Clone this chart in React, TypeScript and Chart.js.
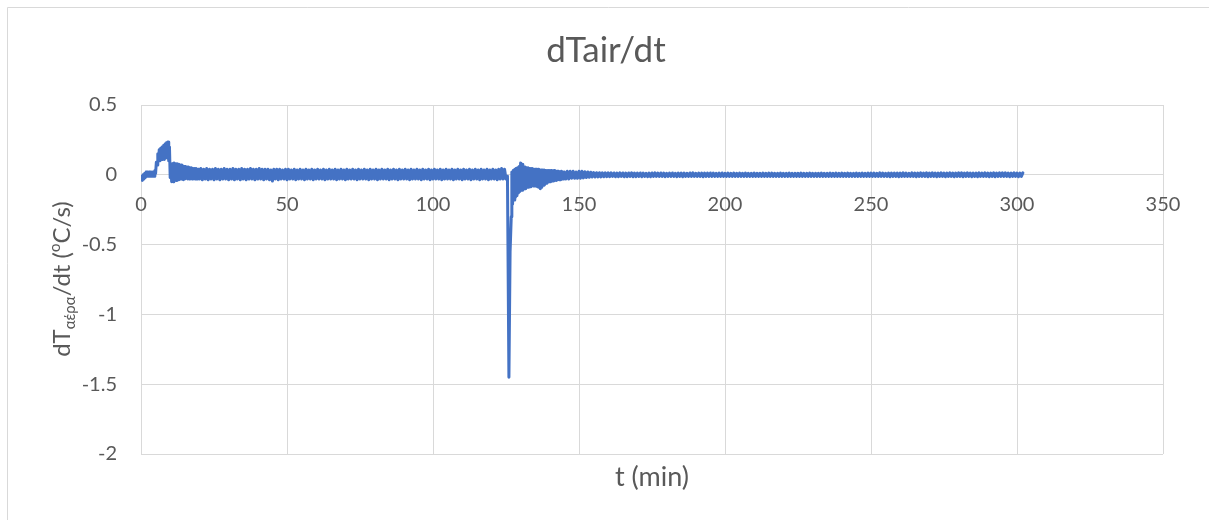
import React, { useEffect, useRef } from "react";
import { Chart, registerables } from "chart.js";

Chart.register(...registerables);

const chartTitle = "dTair/dt";
const xAxisTitle = "t (min)";
const xMin = 0;
const xMax = 350;
const xStep = 50;
const yMin = -2;
const yMax = 0.5;
const yStep = 0.5;

const timeMin: number[] = [
  0, 0.25, 0.5, 0.75, 1, 1.25, 1.5, 1.75,
  2, 2.25, 2.5, 2.75, 3, 3.25, 3.5, 3.75,
  4, 4.25, 4.5, 4.75, 5, 5.25, 5.5, 5.75,
  6, 6.25, 6.5, 6.75, 7, 7.25, 7.5, 7.75,
  8, 8.25, 8.5, 8.75, 9, 9.25, 9.5, 9.75,
  10, 10.25, 10.5, 10.75, 11, 11.25, 11.5, 11.75,
  12, 12.25, 12.5, 12.75, 13, 13.25, 13.5, 13.75,
  14, 14.25, 14.5, 14.75, 15, 15.25, 15.5, 15.75,
  16, 16.25, 16.5, 16.75, 17, 17.25, 17.5, 17.75,
  18, 18.25, 18.5, 18.75, 19, 19.25, 19.5, 19.75,
  20,
  20.5, 21, 21.5, 22, 22.5, 23, 23.5, 24, 24.5, 25,
  25.5, 26, 26.5, 27, 27.5, 28, 28.5, 29, 29.5, 30,
  30.5, 31, 31.5, 32, 32.5, 33, 33.5, 34, 34.5, 35,
  35.5, 36, 36.5, 37, 37.5, 38, 38.5, 39, 39.5, 40,
  40.5, 41, 41.5, 42, 42.5, 43, 43.5, 44, 44.5, 45,
  45.5, 46, 46.5, 47, 47.5, 48, 48.5, 49, 49.5, 50,
  50.5, 51, 51.5, 52, 52.5, 53, 53.5, 54, 54.5, 55,
  55.5, 56, 56.5, 57, 57.5, 58, 58.5, 59, 59.5, 60,
  60.5, 61, 61.5, 62, 62.5, 63, 63.5, 64, 64.5, 65,
  65.5, 66, 66.5, 67, 67.5, 68, 68.5, 69, 69.5, 70,
  70.5, 71, 71.5, 72, 72.5, 73, 73.5, 74, 74.5, 75,
  75.5, 76, 76.5, 77, 77.5, 78, 78.5, 79, 79.5, 80,
  80.5, 81, 81.5, 82, 82.5, 83, 83.5, 84, 84.5, 85,
  85.5, 86, 86.5, 87, 87.5, 88, 88.5, 89, 89.5, 90,
  90.5, 91, 91.5, 92, 92.5, 93, 93.5, 94, 94.5, 95,
  95.5, 96, 96.5, 97, 97.5, 98, 98.5, 99, 99.5, 100,
  100.5, 101, 101.5, 102, 102.5, 103, 103.5, 104, 104.5, 105,
  105.5, 106, 106.5, 107, 107.5, 108, 108.5, 109, 109.5, 110,
  110.5, 111, 111.5, 112, 112.5, 113, 113.5, 114, 114.5, 115,
  115.5, 116, 116.5, 117, 117.5, 118, 118.5, 119, 119.5, 120,
  120.5, 121, 121.5, 122, 122.5, 123, 123.5, 124, 124.5, 125,
  125.5, 126, 126.4, 126.8,
  127, 127.25, 127.5, 127.75, 128, 128.25, 128.5, 128.75,
  129, 129.25, 129.5, 129.75, 130, 130.25, 130.5, 130.75,
  131, 131.25, 131.5, 131.75, 132, 132.25, 132.5, 132.75,
  133, 133.25, 133.5, 133.75, 134, 134.25, 134.5, 134.75,
  135, 135.25, 135.5, 135.75, 136, 136.25, 136.5, 136.75,
  137, 137.25, 137.5, 137.75, 138, 138.25, 138.5, 138.75,
  139, 139.25, 139.5, 139.75, 140, 140.25, 140.5, 140.75,
  141, 141.25, 141.5, 141.75, 142, 142.25, 142.5, 142.75,
  143, 143.25, 143.5, 143.75, 144, 144.25, 144.5, 144.75,
  145,
  145.5, 146, 146.5, 147, 147.5, 148, 148.5, 149, 149.5, 150,
  150.5, 151, 151.5, 152, 152.5, 153, 153.5, 154, 154.5, 155,
  155.5, 156, 156.5, 157, 157.5, 158, 158.5, 159, 159.5, 160,
  160.5, 161, 161.5, 162, 162.5, 163, 163.5, 164, 164.5, 165,
  165.5, 166, 166.5, 167, 167.5, 168, 168.5, 169, 169.5, 170,
  170.5, 171, 171.5, 172, 172.5, 173, 173.5, 174, 174.5, 175,
  175.5, 176, 176.5, 177, 177.5, 178, 178.5, 179, 179.5, 180,
  180.5, 181, 181.5, 182, 182.5, 183, 183.5, 184, 184.5, 185,
  185.5, 186, 186.5, 187, 187.5, 188, 188.5, 189, 189.5, 190,
  190.5, 191, 191.5, 192, 192.5, 193, 193.5, 194, 194.5, 195,
  195.5, 196, 196.5, 197, 197.5, 198, 198.5, 199, 199.5, 200,
  200.5, 201, 201.5, 202, 202.5, 203, 203.5, 204, 204.5, 205,
  205.5, 206, 206.5, 207, 207.5, 208, 208.5, 209, 209.5, 210,
  210.5, 211, 211.5, 212, 212.5, 213, 213.5, 214, 214.5, 215,
  215.5, 216, 216.5, 217, 217.5, 218, 218.5, 219, 219.5, 220,
  220.5, 221, 221.5, 222, 222.5, 223, 223.5, 224, 224.5, 225,
  225.5, 226, 226.5, 227, 227.5, 228, 228.5, 229, 229.5, 230,
  230.5, 231, 231.5, 232, 232.5, 233, 233.5, 234, 234.5, 235,
  235.5, 236, 236.5, 237, 237.5, 238, 238.5, 239, 239.5, 240,
  240.5, 241, 241.5, 242, 242.5, 243, 243.5, 244, 244.5, 245,
  245.5, 246, 246.5, 247, 247.5, 248, 248.5, 249, 249.5, 250,
  250.5, 251, 251.5, 252, 252.5, 253, 253.5, 254, 254.5, 255,
  255.5, 256, 256.5, 257, 257.5, 258, 258.5, 259, 259.5, 260,
  260.5, 261, 261.5, 262, 262.5, 263, 263.5, 264, 264.5, 265,
  265.5, 266, 266.5, 267, 267.5, 268, 268.5, 269, 269.5, 270,
  270.5, 271, 271.5, 272, 272.5, 273, 273.5, 274, 274.5, 275,
  275.5, 276, 276.5, 277, 277.5, 278, 278.5, 279, 279.5, 280,
  280.5, 281, 281.5, 282, 282.5, 283, 283.5, 284, 284.5, 285,
  285.5, 286, 286.5, 287, 287.5, 288, 288.5, 289, 289.5, 290,
  290.5, 291, 291.5, 292, 292.5, 293, 293.5, 294, 294.5, 295,
  295.5, 296, 296.5, 297, 297.5, 298, 298.5, 299, 299.5, 300,
  300.5, 301, 301.5, 302,
];

const dTairDt: number[] = [
  -0.03, -0.01, -0.04, 0.0, -0.03, 0.01, -0.02, 0.02,
  -0.01, 0.02, -0.01, 0.02, -0.01, 0.02, -0.01, 0.02,
  -0.01, 0.02, -0.01, 0.03, 0.01, 0.09, 0.07, 0.15,
  0.1, 0.18, 0.1, 0.19, 0.11, 0.2, 0.11, 0.21,
  0.11, 0.22, 0.12, 0.23, 0.12, 0.235, 0.1, 0.2,
  -0.02, 0.06, -0.05, 0.08, -0.05, 0.085, -0.04, 0.08,
  -0.04, 0.08, -0.03, 0.075, -0.035, 0.07, -0.03, 0.07,
  -0.03, 0.065, -0.035, 0.06, -0.03, 0.06, -0.025, 0.055,
  -0.03, 0.055, -0.03, 0.05, -0.025, 0.05, -0.03, 0.045,
  -0.025, 0.045, -0.03, 0.045, -0.025, 0.04, -0.03, 0.04,
  -0.03,
  0.045, -0.035, 0.04, -0.03, 0.045, -0.035, 0.04, -0.03, 0.04, -0.035,
  0.045, -0.03, 0.04, -0.035, 0.04, -0.03, 0.045, -0.03, 0.04, -0.035,
  0.04, -0.03, 0.045, -0.035, 0.04, -0.03, 0.04, -0.035, 0.045, -0.03,
  0.04, -0.035, 0.04, -0.03, 0.045, -0.03, 0.04, -0.035, 0.04, -0.03,
  0.045, -0.03, 0.04, -0.035, 0.04, -0.03, 0.04, -0.035, 0.035, -0.045,
  0.04, -0.03, 0.04, -0.035, 0.04, -0.03, 0.035, -0.03, 0.04, -0.035,
  0.04, -0.03, 0.035, -0.03, 0.04, -0.035, 0.035, -0.03, 0.04, -0.03,
  0.035, -0.035, 0.04, -0.03, 0.035, -0.03, 0.04, -0.035, 0.035, -0.03,
  0.04, -0.03, 0.035, -0.03, 0.04, -0.035, 0.035, -0.03, 0.04, -0.03,
  0.035, -0.03, 0.04, -0.035, 0.035, -0.03, 0.04, -0.03, 0.035, -0.035,
  0.04, -0.03, 0.035, -0.03, 0.04, -0.03, 0.035, -0.035, 0.04, -0.03,
  0.035, -0.03, 0.04, -0.03, 0.035, -0.035, 0.04, -0.03, 0.035, -0.03,
  0.04, -0.035, 0.035, -0.03, 0.04, -0.03, 0.035, -0.03, 0.04, -0.035,
  0.035, -0.03, 0.04, -0.03, 0.035, -0.035, 0.04, -0.03, 0.035, -0.03,
  0.04, -0.03, 0.035, -0.035, 0.04, -0.03, 0.035, -0.03, 0.04, -0.03,
  0.035, -0.035, 0.04, -0.03, 0.035, -0.03, 0.04, -0.035, 0.035, -0.03,
  0.04, -0.03, 0.035, -0.03, 0.04, -0.035, 0.035, -0.03, 0.04, -0.03,
  0.035, -0.03, 0.04, -0.035, 0.035, -0.03, 0.04, -0.03, 0.035, -0.035,
  0.04, -0.03, 0.035, -0.03, 0.04, -0.035, 0.035, -0.03, 0.04, -0.03,
  0.035, -0.035, 0.04, -0.03, 0.035, -0.03, 0.04, -0.035, 0.035, -0.03,
  0.04, -0.03, 0.035, -0.035, 0.04, -0.03, 0.045, -0.03, 0.04, -0.03,
  -0.01, -1.45, -0.55, -0.3,
  0.02, -0.21, 0.03, -0.18, 0.04, -0.16, 0.045, -0.15,
  0.05, -0.13, 0.06, -0.12, 0.085, -0.11, 0.075, -0.11,
  0.06, -0.1, 0.055, -0.1, 0.05, -0.09, 0.05, -0.09,
  0.045, -0.085, 0.045, -0.08, 0.045, -0.08, 0.04, -0.08,
  0.04, -0.08, 0.04, -0.085, 0.04, -0.09, 0.035, -0.1,
  0.035, -0.09, 0.035, -0.075, 0.035, -0.07, 0.03, -0.06,
  0.03, -0.055, 0.03, -0.05, 0.03, -0.05, 0.03, -0.045,
  0.025, -0.045, 0.03, -0.04, 0.025, -0.04, 0.025, -0.035,
  0.025, -0.035, 0.02, -0.035, 0.025, -0.03, 0.02, -0.03,
  0.02,
  -0.03, 0.025, -0.03, 0.025, -0.025, 0.025, -0.025, 0.02, -0.025, 0.025,
  -0.025, 0.025, -0.022, 0.022, -0.02, 0.02, -0.018, 0.018, -0.016, 0.016,
  -0.016, 0.015, -0.015, 0.015, -0.015, 0.014, -0.014, 0.014, -0.013, 0.014,
  -0.013, 0.014, -0.012, 0.013, -0.014, 0.012, -0.013, 0.014, -0.012, 0.013,
  -0.014, 0.012, -0.013, 0.013, -0.012, 0.014, -0.014, 0.012, -0.013, 0.012,
  -0.012, 0.013, -0.014, 0.012, -0.012, 0.011, -0.013, 0.012, -0.014, 0.013,
  -0.012, 0.014, -0.012, 0.012, -0.011, 0.013, -0.012, 0.012, -0.013, 0.011,
  -0.012, 0.012, -0.011, 0.013, -0.012, 0.011, -0.013, 0.012, -0.011, 0.012,
  -0.014, 0.012, -0.012, 0.011, -0.012, 0.013, -0.012, 0.014, -0.012, 0.011,
  -0.012, 0.012, -0.011, 0.012, -0.014, 0.012, -0.011, 0.012, -0.012, 0.013,
  -0.011, 0.012, -0.012, 0.011, -0.012, 0.012, -0.011, 0.013, -0.012, 0.011,
  -0.011, 0.012, -0.012, 0.011, -0.011, 0.012, -0.012, 0.011, -0.012, 0.012,
  -0.011, 0.011, -0.012, 0.012, -0.011, 0.011, -0.012, 0.011, -0.011, 0.012,
  -0.012, 0.011, -0.011, 0.011, -0.012, 0.012, -0.011, 0.011, -0.011, 0.012,
  -0.011, 0.012, -0.011, 0.011, -0.012, 0.011, -0.011, 0.012, -0.011, 0.011,
  -0.012, 0.011, -0.011, 0.012, -0.011, 0.011, -0.012, 0.011, -0.011, 0.011,
  -0.011, 0.012, -0.011, 0.011, -0.012, 0.011, -0.011, 0.012, -0.011, 0.011,
  -0.012, 0.011, -0.011, 0.011, -0.012, 0.012, -0.011, 0.011, -0.012, 0.011,
  -0.011, 0.012, -0.011, 0.011, -0.011, 0.012, -0.012, 0.011, -0.011, 0.012,
  -0.011, 0.011, -0.012, 0.012, -0.011, 0.011, -0.012, 0.011, -0.011, 0.012,
  -0.012, 0.011, -0.011, 0.012, -0.012, 0.011, -0.011, 0.012, -0.012, 0.012,
  -0.011, 0.012, -0.012, 0.011, -0.012, 0.014, -0.012, 0.012, -0.012, 0.011,
  -0.012, 0.012, -0.014, 0.012, -0.012, 0.012, -0.011, 0.012, -0.014, 0.012,
  -0.012, 0.014, -0.012, 0.012, -0.012, 0.011, -0.012, 0.014, -0.012, 0.012,
  -0.014, 0.012, -0.012, 0.014, -0.012, 0.012, -0.012, 0.014, -0.014, 0.012,
  -0.012, 0.014, -0.012, 0.012, -0.014, 0.012, -0.012, 0.014, -0.012, 0.012,
  -0.014, 0.012, -0.012, 0.014, -0.012, 0.012, -0.014, 0.012, -0.012, 0.014,
  -0.012, 0.014, -0.014, 0.012, -0.012, 0.014, -0.012, 0.012, -0.014, 0.012,
  -0.012, 0.012, -0.014, 0.014, -0.012, 0.012, -0.012, 0.014, -0.012, 0.012,
  -0.014, 0.012, -0.012, 0.014, -0.014, 0.012, -0.012, 0.014, -0.012, 0.014,
  -0.012, 0.014, -0.012, 0.012, -0.014, 0.012, -0.012, 0.014, -0.012, 0.012,
  -0.014, 0.012, -0.012, 0.014,
];

const FONT = "Lato, 'Open Sans', sans-serif";
const TEXT = "#595959";
const GRID = "#d9d9d9";

const decorPlugin = {
  id: "decor",
  beforeDraw(chart: any) {
    const ctx = chart.ctx;
    ctx.save();
    ctx.fillStyle = "#ffffff";
    ctx.fillRect(0, 0, chart.width, chart.height);
    ctx.strokeStyle = GRID;
    ctx.lineWidth = 1;
    ctx.beginPath();
    ctx.moveTo(7.5, chart.height);
    ctx.lineTo(7.5, 7.5);
    ctx.lineTo(chart.width, 7.5);
    ctx.stroke();
    ctx.restore();
  },
  afterDraw(chart: any) {
    const ctx = chart.ctx;
    const area = chart.chartArea;
    ctx.save();
    ctx.fillStyle = TEXT;
    ctx.textAlign = "center";
    ctx.textBaseline = "alphabetic";
    ctx.font = `35px ${FONT}`;
    ctx.fillText(chartTitle, 606, 62);
    ctx.font = `27px ${FONT}`;
    ctx.fillText(xAxisTitle, (area.left + area.right) / 2, 486);

    // rotated y axis title with subscript / superscript
    const parts = [
      { t: "dT", s: 24, dy: 0 },
      { t: "αέρα", s: 15, dy: 5 },
      { t: "/dt (", s: 24, dy: 0 },
      { t: "o", s: 15, dy: -10 },
      { t: "C/s)", s: 24, dy: 0 },
    ];
    let total = 0;
    const widths: number[] = [];
    for (const p of parts) {
      ctx.font = `${p.s}px ${FONT}`;
      const w = ctx.measureText(p.t).width;
      widths.push(w);
      total += w;
    }
    ctx.translate(70, 279);
    ctx.rotate(-Math.PI / 2);
    ctx.textAlign = "left";
    let x = -total / 2;
    parts.forEach((p, i) => {
      ctx.font = `${p.s}px ${FONT}`;
      ctx.fillText(p.t, x, p.dy);
      x += widths[i];
    });
    ctx.restore();
  },
};

export default function App() {
  const ref = useRef<HTMLCanvasElement | null>(null);

  useEffect(() => {
    document.body.style.margin = "0";
    const canvas = ref.current;
    if (!canvas) return;
    const n = Math.min(timeMin.length, dTairDt.length);
    const points = [];
    for (let i = 0; i < n; i++) points.push({ x: timeMin[i], y: dTairDt[i] });

    const chart = new Chart(canvas, {
      type: "line",
      data: {
        datasets: [
          {
            data: points,
            borderColor: "#4472c4",
            backgroundColor: "#4472c4",
            borderWidth: 3,
            borderJoinStyle: "round",
            borderCapStyle: "round",
            pointRadius: 0,
            tension: 0,
            fill: false,
          },
        ],
      },
      options: {
        responsive: false,
        animation: false,
        devicePixelRatio: 1,
        layout: { padding: { left: 8, right: 46, top: 105, bottom: 66 } },
        plugins: {
          legend: { display: false },
          title: { display: false },
          tooltip: { enabled: false },
        },
        scales: {
          x: {
            type: "linear",
            position: { y: 0 } as any,
            min: xMin,
            max: xMax,
            ticks: {
              stepSize: xStep,
              color: TEXT,
              font: { family: FONT, size: 20 },
              padding: 18,
              maxRotation: 0,
            },
            grid: { color: GRID, lineWidth: 1, drawTicks: false },
            border: { color: GRID, width: 1 },
          },
          y: {
            type: "linear",
            min: yMin,
            max: yMax,
            ticks: {
              stepSize: yStep,
              color: TEXT,
              font: { family: FONT, size: 20 },
              padding: 24,
              callback: (v: any) => String(Number(Number(v).toFixed(1))),
            },
            grid: { color: GRID, lineWidth: 1, drawTicks: false },
            border: { display: false },
            afterFit: (scale: any) => {
              scale.width = 133;
            },
          },
        },
      },
      plugins: [decorPlugin],
    });
    return () => chart.destroy();
  }, []);

  return (
    <canvas
      ref={ref}
      width={1209}
      height={520}
      style={{ display: "block", width: 1209, height: 520 }}
    />
  );
}
